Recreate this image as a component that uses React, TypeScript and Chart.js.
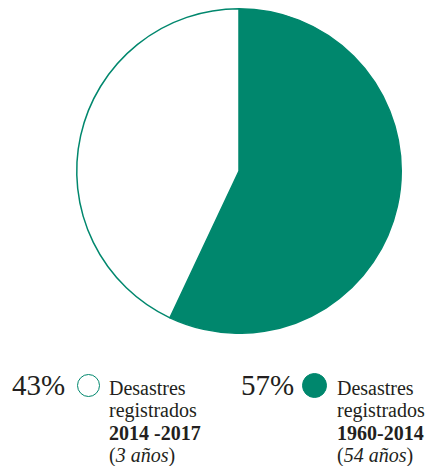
import React, { useEffect, useRef } from "react";
import { Chart, registerables } from "chart.js";

Chart.register(...registerables);

const labels = ["Desastres registrados 1960-2014", "Desastres registrados 2014-2017"];
const values = [57, 43];
const GREEN = "#00876d";
const sliceColors = [GREEN, "#ffffff"];

const legendPercents = ["43%", "57%"];
const legendPeriods = ["2014 -2017", "1960-2014"];
const legendYears = ["3 años", "54 años"];
const legendFilled = [false, true];

const FONT = '"Liberation Serif", serif';
const TEXT = "#231f20";

export default function App() {
  const ref = useRef<HTMLCanvasElement | null>(null);

  useEffect(() => {
    if (!ref.current) return;
    const chart = new Chart(ref.current, {
      type: "pie",
      data: {
        labels,
        datasets: [
          {
            data: values,
            backgroundColor: sliceColors,
            borderColor: GREEN,
            borderWidth: 1.5,
          },
        ],
      },
      options: {
        responsive: false,
        animation: false,
        layout: { padding: { left: 44, right: 0, top: 0, bottom: 0 } },
        plugins: {
          legend: { display: false },
          tooltip: { enabled: false },
        },
      },
    });
    return () => chart.destroy();
  }, []);

  const groups = [
    { pctLeft: 4, circleCx: 80.3, circleD: 23, textLeft: 101 },
    { pctLeft: 233, circleCx: 306, circleD: 25, textLeft: 329 },
  ];

  return (
    <div style={{ position: "relative", width: 418, height: 458, color: TEXT }}>
      <canvas ref={ref} width={418} height={326} style={{ position: "absolute", left: 0, top: 0 }} />
      {groups.map((g, i) => (
        <React.Fragment key={i}>
          <div
            style={{
              position: "absolute",
              left: g.pctLeft,
              top: 362.7,
              fontFamily: FONT,
              fontSize: 29,
              lineHeight: "29px",
              whiteSpace: "nowrap",
            }}
          >
            {legendPercents[i]}
          </div>
          <div
            style={{
              position: "absolute",
              left: g.circleCx - g.circleD / 2,
              top: 377 - g.circleD / 2,
              width: g.circleD,
              height: g.circleD,
              boxSizing: "border-box",
              borderRadius: "50%",
              border: `1.5px solid ${GREEN}`,
              background: legendFilled[i] ? GREEN : "#ffffff",
            }}
          />
          <div
            style={{
              position: "absolute",
              left: g.textLeft,
              top: 369.15,
              fontFamily: FONT,
              fontSize: 20,
              lineHeight: "22.2px",
              whiteSpace: "nowrap",
            }}
          >
            <div>Desastres</div>
            <div>registrados</div>
            <div style={{ fontWeight: "bold" }}>{legendPeriods[i]}</div>
            <div>
              (<i>{legendYears[i]}</i>)
            </div>
          </div>
        </React.Fragment>
      ))}
    </div>
  );
}
